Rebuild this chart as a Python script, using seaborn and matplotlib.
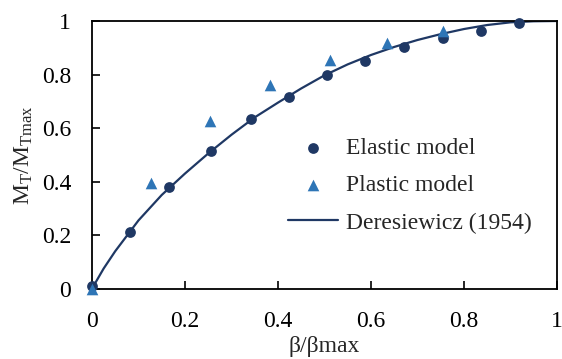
import numpy as np
import pandas as pd
import matplotlib
matplotlib.use("Agg")
import matplotlib.pyplot as plt
import seaborn as sns

# values
elastic_x = [0.0, 0.081, 0.166, 0.256, 0.343, 0.424, 0.505, 0.588, 0.672, 0.754, 0.836, 0.918]
elastic_y = [0.01, 0.21, 0.38, 0.516, 0.634, 0.715, 0.797, 0.85, 0.901, 0.938, 0.961, 0.991]

plastic_x = [0.0, 0.126, 0.254, 0.383, 0.512, 0.635, 0.755]
plastic_y = [0.0, 0.396, 0.627, 0.762, 0.853, 0.919, 0.961]

theory_x = [0.0, 0.025, 0.05, 0.1, 0.15, 0.2, 0.25, 0.3, 0.35, 0.4, 0.45, 0.5,
            0.55, 0.6, 0.65, 0.7, 0.75, 0.8, 0.85, 0.9, 0.95, 1.0]
theory_y = [0.0, 0.075, 0.14, 0.255, 0.35, 0.43, 0.505, 0.575, 0.64, 0.695, 0.748, 0.797,
            0.838, 0.873, 0.903, 0.929, 0.951, 0.97, 0.985, 0.995, 0.999, 1.0]

xticks = [0, 0.2, 0.4, 0.6, 0.8, 1]
xtick_labels = ["0", "0.2", "0.4", "0.6", "0.8", "1"]
yticks = [0, 0.2, 0.4, 0.6, 0.8, 1]
ytick_labels = ["0", "0.2", "0.4", "0.6", "0.8", "1"]

navy = "#1f3864"
blue = "#2e75b6"

sns.set_theme(style="ticks")
plt.rcParams["font.family"] = ["Liberation Serif", "DejaVu Serif"]
plt.rcParams["mathtext.fontset"] = "custom"
plt.rcParams["mathtext.rm"] = "Liberation Serif"
plt.rcParams["mathtext.it"] = "Liberation Serif:italic"

elastic = pd.DataFrame({"x": elastic_x, "y": elastic_y})
plastic = pd.DataFrame({"x": plastic_x, "y": plastic_y})
theory = pd.DataFrame({"x": theory_x, "y": theory_y})

fig = plt.figure(figsize=(5.62, 3.59), dpi=100)
ax = fig.add_axes([0.1637, 0.196, 0.8273, 0.7455])

sns.lineplot(theory, x="x", y="y", color=navy, linewidth=1.6, ax=ax,
             label="Deresiewicz (1954)", zorder=2, sort=False)
sns.scatterplot(elastic, x="x", y="y", color=navy, s=60, marker="o",
                linewidth=0, ax=ax, label="Elastic model", zorder=3, clip_on=False)
sns.scatterplot(plastic, x="x", y="y", color=blue, s=70, marker="^",
                linewidth=0, ax=ax, label="Plastic model", zorder=4, clip_on=False)

ax.set_xlim(0, 1)
ax.set_ylim(0, 1)
ax.set_xticks(xticks)
ax.set_xticklabels(xtick_labels)
ax.set_yticks(yticks)
ax.set_yticklabels(ytick_labels)
ax.tick_params(direction="in", length=5.5, width=1.2, labelsize=17, colors="black")
ax.tick_params(axis="x", pad=16)
ax.tick_params(axis="y", pad=15)
for sp in ax.spines.values():
    sp.set_visible(True)
    sp.set_linewidth(1.3)
    sp.set_color("black")

ax.set_xlabel("β/βmax", fontsize=17, labelpad=3)
ax.set_ylabel(r"$\mathrm{M_T/M_{Tmax}}$", fontsize=17, labelpad=5)

handles, labels = ax.get_legend_handles_labels()
order = [labels.index("Elastic model"), labels.index("Plastic model"),
         labels.index("Deresiewicz (1954)")]
ax.legend([handles[i] for i in order], [labels[i] for i in order],
          frameon=False, fontsize=17, loc="upper left",
          bbox_to_anchor=(0.4215, 0.565), handlelength=2.1, labelspacing=0.67,
          handletextpad=0.37, borderpad=0, borderaxespad=0)

fig.savefig("out.png", dpi=100)
